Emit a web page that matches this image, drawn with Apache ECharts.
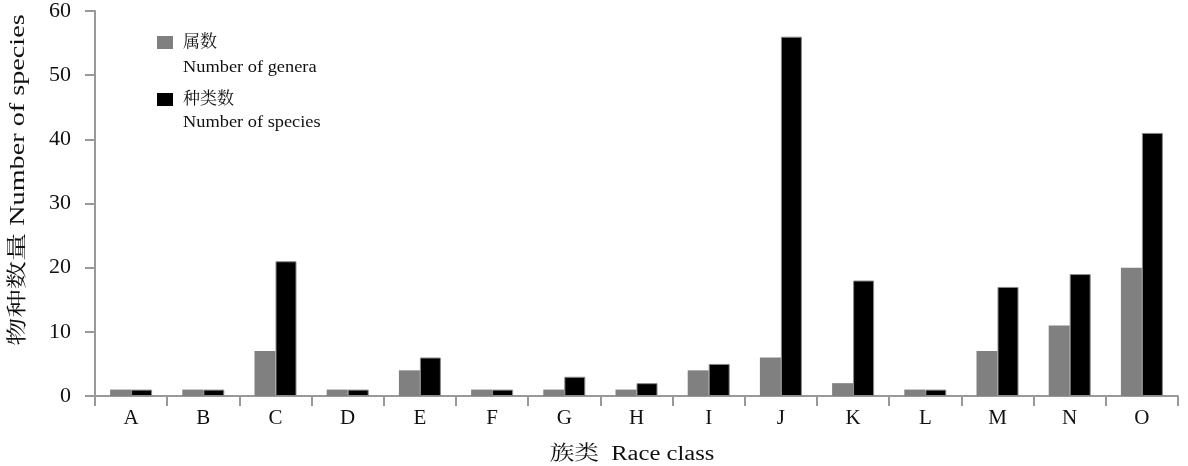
<!DOCTYPE html>
<html>
<head>
<meta charset="utf-8">
<script src="https://cdn.jsdelivr.net/npm/echarts@6/dist/echarts.min.js"></script>
<style>html,body{margin:0;padding:0;background:#fff}#c{width:1188px;height:466px}</style>
</head>
<body>
<div id="c"></div>
<script>
const categories = ['A','B','C','D','E','F','G','H','I','J','K','L','M','N','O'];
const genera  = [1, 1, 7, 1, 4, 1, 1, 1, 4, 6, 2, 1, 7, 11, 20];
const species = [1, 1, 21, 1, 6, 1, 3, 2, 5, 56, 18, 1, 17, 19, 41];
const yTicks = [0, 10, 20, 30, 40, 50, 60];
const seriesNames = ['属数', '种类数'];
const seriesNamesEn = ['Number of genera', 'Number of species'];
const xName = '族类  Race class';
const yName = '物种数量 Number of species';

const FONT = "'Liberation Serif','Times New Roman','Noto Serif CJK SC','Noto Sans CJK SC',serif";
const axisCol = '#999999';

const chart = echarts.init(document.getElementById('c'), null, {renderer: 'canvas'});
chart.setOption({
  backgroundColor: '#ffffff',
  animation: false,
  grid: {left: 95, right: 10, top: 10, bottom: 70, containLabel: false},
  legend: {
    orient: 'vertical',
    left: 157, top: 32.5, padding: 0,
    itemWidth: 16, itemHeight: 13, itemGap: 37,
    icon: 'rect',
    itemStyle: {borderWidth: 0},
    textStyle: {fontFamily: FONT, fontSize: 17, color: '#111', lineHeight: 20, padding: [0,0,0,5]},
    data: seriesNames
  },
  xAxis: {
    type: 'category',
    data: categories,
    axisLine: {lineStyle: {color: axisCol, width: 2}},
    axisTick: {show: true, length: 10, lineStyle: {color: axisCol, width: 2}},
    axisLabel: {fontFamily: FONT, fontSize: 21, color: '#111', margin: 12}
  },
  yAxis: {
    type: 'value',
    min: yTicks[0], max: yTicks[yTicks.length - 1], interval: 10,
    splitLine: {show: false},
    axisLine: {show: true, lineStyle: {color: axisCol, width: 2}},
    axisTick: {show: true, length: 10, lineStyle: {color: axisCol, width: 2}},
    axisLabel: {fontFamily: FONT, fontSize: 22, color: '#111', margin: 24}
  },
  graphic: [
    {type: 'text', x: 183, y: 68, scaleX: 1.08,
     style: {text: seriesNamesEn[0], font: '17px ' + FONT, fill: '#111', align: 'left', verticalAlign: 'middle'}},
    {type: 'text', x: 183, y: 123, scaleX: 1.08,
     style: {text: seriesNamesEn[1], font: '17px ' + FONT, fill: '#111', align: 'left', verticalAlign: 'middle'}},
    {type: 'text', x: 632, y: 455, scaleX: 1.23,
     style: {text: xName, font: '20px ' + FONT, fill: '#111', align: 'center', verticalAlign: 'middle'}},
    {type: 'text', x: 19, y: 180, rotation: Math.PI / 2, scaleX: 1.41,
     style: {text: yName, font: '20px ' + FONT, fill: '#111', align: 'center', verticalAlign: 'middle'}}
  ],
  series: [
    {name: seriesNames[0], type: 'bar', data: genera, barWidth: 21, barGap: '0%',
     itemStyle: {color: '#808080'}},
    {name: seriesNames[1], type: 'bar', data: species, barWidth: 21, barGap: '0%',
     itemStyle: {color: '#000000', borderColor: '#8a8a8a', borderWidth: 1}}
  ]
});
</script>
</body>
</html>
